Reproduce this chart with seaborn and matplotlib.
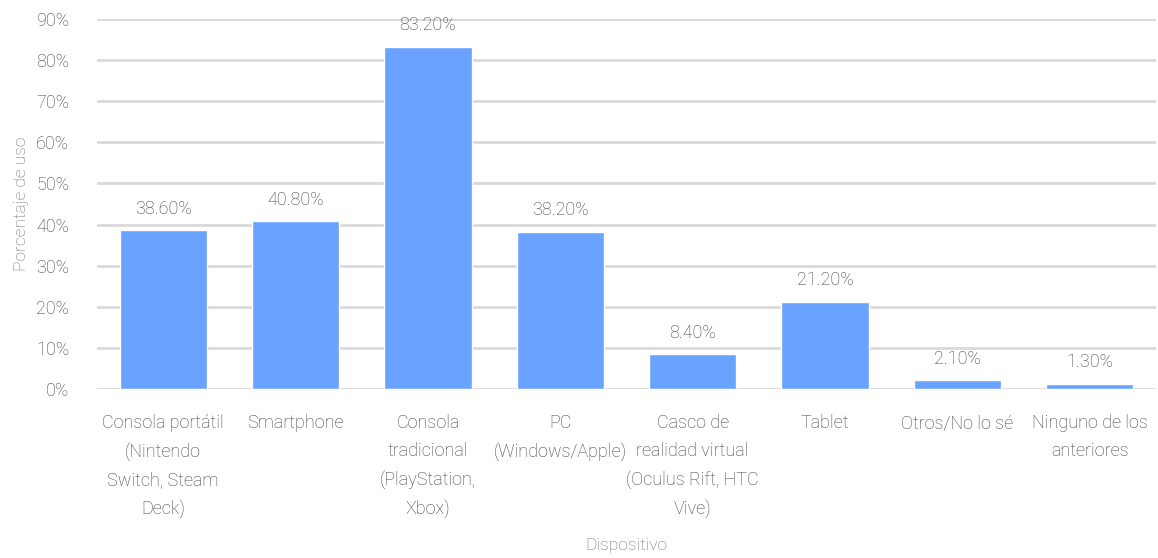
import matplotlib
matplotlib.use("Agg")
import matplotlib.pyplot as plt
import seaborn as sns
import pandas as pd

dispositivos = [
    "Consola portátil\n(Nintendo\nSwitch, Steam\nDeck)",
    "Smartphone",
    "Consola\ntradicional\n(PlayStation,\nXbox)",
    "PC\n(Windows/Apple)",
    "Casco de\nrealidad virtual\n(Oculus Rift, HTC\nVive)",
    "Tablet",
    "Otros/No lo sé",
    "Ninguno de los\nanteriores",
]
porcentajes = [38.6, 40.8, 83.2, 38.2, 8.4, 21.2, 2.1, 1.3]
yticks = [0, 10, 20, 30, 40, 50, 60, 70, 80, 90]

sns.set_theme(style="white")
plt.rcParams["font.family"] = ["Roboto", "DejaVu Sans"]
plt.rcParams["font.weight"] = "light"

gray = "#404040"
axis_gray = "#707070"
df = pd.DataFrame({"Dispositivo": dispositivos, "Porcentaje": porcentajes})

fig = plt.figure(figsize=(11.58, 5.58), dpi=100)
ax = fig.add_axes([97 / 1158, 169 / 558, 1059 / 1158, 370 / 558])
sns.barplot(data=df, x="Dispositivo", y="Porcentaje", color="#6aa2ff",
            width=0.66, saturation=1, ax=ax, zorder=3)

ax.set_ylim(0, 90)
ax.set_xlim(-0.5, len(dispositivos) - 0.5)
ax.set_yticks(yticks)
ax.set_yticklabels([f"{v}%" for v in yticks], color=gray, fontsize=13, fontweight="light")
ax.tick_params(axis="y", length=0, pad=20)
ax.tick_params(axis="x", length=0, pad=18)
for lbl in ax.get_xticklabels():
    lbl.set_color(gray)
    lbl.set_fontsize(13)
    lbl.set_fontweight("light")
    lbl.set_linespacing(1.7)
    lbl.set_verticalalignment("top")
ax.grid(axis="y", color="#d9d9d9", linewidth=2, zorder=0)
for s in ax.spines.values():
    s.set_visible(False)

for i, v in enumerate(porcentajes):
    ax.annotate(f"{v:.2f}%", (i, v), xytext=(0, 9), textcoords="offset points",
                ha="center", va="bottom", color=gray, fontsize=13, fontweight="light")

ax.set_xlabel("Dispositivo", color=axis_gray, fontsize=12.5, labelpad=14, fontweight="light")
ax.set_ylabel("Porcentaje de uso", color=axis_gray, fontsize=12.5, labelpad=5, fontweight="light")

fig.savefig("out.png", dpi=100)
